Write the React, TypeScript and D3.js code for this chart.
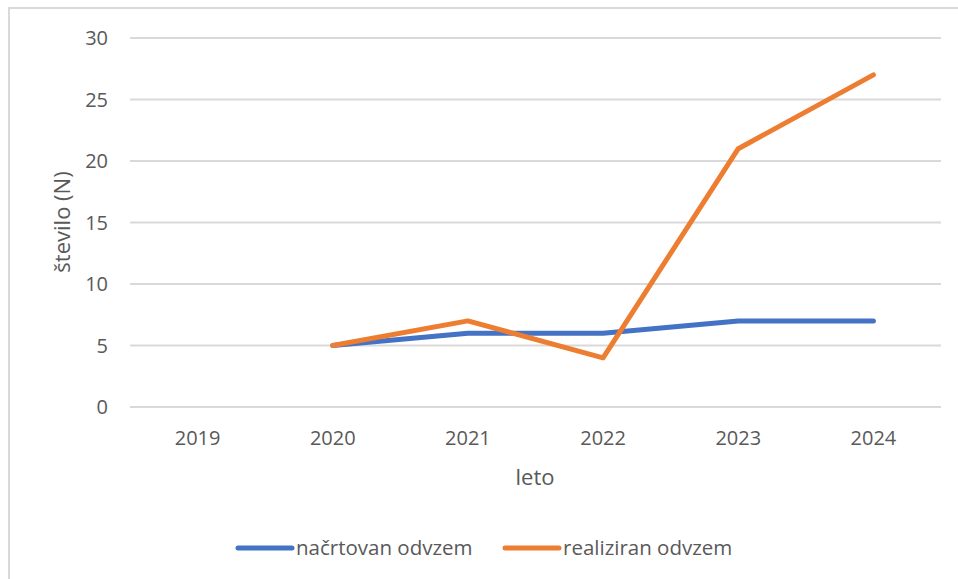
import React from "react";
import * as d3 from "d3";

const years = ["2019", "2020", "2021", "2022", "2023", "2024"];
const planned: (number | null)[] = [null, 5, 6, 6, 7, 7];
const realized: (number | null)[] = [null, 5, 7, 4, 21, 27];
const yTicks = [0, 5, 10, 15, 20, 25, 30];
const seriesNames = ["načrtovan odvzem", "realiziran odvzem"];
const colors = ["#4472C4", "#ED7D31"];

export default function App() {
  const W = 958, H = 579;
  const left = 130, right = 941, top = 38, bottom = 407;
  const x = d3.scaleBand<string>().domain(years).range([left, right]);
  const y = d3.scaleLinear().domain([0, 30]).range([bottom, top]);
  const font = "'Open Sans', sans-serif";
  const line = d3
    .line<number | null>()
    .defined((d) => d !== null)
    .x((_, i) => (x(years[i]) as number) + x.bandwidth() / 2)
    .y((d) => y(d as number));
  const series = [planned, realized];
  const legendX = [238, 505];
  return (
    <svg width={W} height={H} style={{ position: "absolute", left: 0, top: 0, background: "#fff" }}>
      <rect x={9} y={8} width={W + 20} height={H + 20} fill="#fff" stroke="#d9d9d9" strokeWidth={2} />
      {yTicks.map((t) => (
        <g key={t}>
          <line x1={left} x2={right} y1={y(t)} y2={y(t)} stroke="#d9d9d9" strokeWidth={2} />
          <text x={108} y={y(t)} dy="0.35em" textAnchor="end" fontFamily={font} fontSize={20} fill="#595959">
            {t}
          </text>
        </g>
      ))}
      {years.map((yr) => (
        <text key={yr} x={(x(yr) as number) + x.bandwidth() / 2} y={438} dy="0.35em" textAnchor="middle" fontFamily={font} fontSize={20} fill="#595959">
          {yr}
        </text>
      ))}
      <text x={535} y={477} dy="0.35em" textAnchor="middle" fontFamily={font} fontSize={22} fill="#595959">
        leto
      </text>
      <text transform={`translate(62,222) rotate(-90)`} dy="0.35em" textAnchor="middle" fontFamily={font} fontSize={22} fill="#595959">
        število (N)
      </text>
      {series.map((s, i) => (
        <path key={i} d={line(s) || ""} fill="none" stroke={colors[i]} strokeWidth={5} strokeLinecap="round" strokeLinejoin="round" />
      ))}
      {seriesNames.map((n, i) => (
        <g key={n}>
          <line x1={legendX[i]} x2={legendX[i] + 54} y1={548} y2={548} stroke={colors[i]} strokeWidth={5} strokeLinecap="round" />
          <text x={legendX[i] + 58} y={548} dy="0.35em" fontFamily={font} fontSize={20.5} fill="#595959">
            {n}
          </text>
        </g>
      ))}
    </svg>
  );
}
